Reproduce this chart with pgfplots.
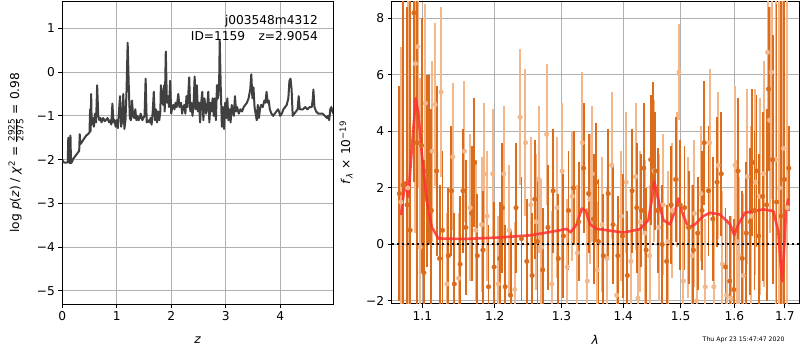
\documentclass[border=0pt]{standalone}
\usepackage{fontspec}
\setmainfont{DejaVu Sans}
\usepackage{pgfplots}
\usepackage{pgfplotstable}
\pgfplotsset{compat=1.18}
\definecolor{darkor}{HTML}{DB6C1C}
\definecolor{lightor}{HTML}{F2B88C}
\definecolor{modred}{HTML}{FF3030}
\definecolor{pzcol}{HTML}{404040}
\definecolor{gridc}{HTML}{B0B0B0}

\pgfplotstableread{
z lp
0.00 -2.00
0.02 -2.06
0.05 -2.07
0.08 -2.07
0.10 -2.05
0.11 -1.50
0.12 -2.05
0.14 -2.08
0.15 -1.45
0.16 -2.08
0.18 -2.05
0.20 -1.98
0.22 -1.95
0.25 -1.90
0.28 -1.85
0.31 -1.80
0.32 -1.42
0.33 -1.65
0.36 -1.60
0.40 -1.52
0.44 -1.45
0.47 -1.42
0.50 -1.38
0.51 -0.85
0.52 -1.35
0.53 -0.50
0.54 -1.20
0.56 -1.05
0.58 -1.25
0.60 -0.95
0.62 -1.15
0.64 -0.30
0.66 -1.00
0.68 -1.10
0.70 -1.05
0.72 -1.15
0.75 -1.05
0.78 -1.12
0.80 -1.10
0.83 -1.05
0.86 -1.15
0.88 -1.10
0.90 -1.20
0.92 -0.72
0.94 -1.15
0.96 -1.10
0.98 -1.25
1.00 -1.10
1.02 -1.28
1.04 -0.90
1.06 -0.55
1.08 -1.25
1.10 -1.10
1.12 -0.50
1.14 -1.30
1.16 -1.10
1.18 -0.40
1.20 0.67
1.22 -0.30
1.24 -1.05
1.26 -1.10
1.28 -0.65
1.30 -1.00
1.32 -1.05
1.34 -0.85
1.36 -1.10
1.38 -1.00
1.40 -1.10
1.42 -1.05
1.44 -0.95
1.47 -1.10
1.49 -1.05
1.51 -1.00
1.53 -0.15
1.55 -1.15
1.57 -1.10
1.60 -1.15
1.62 -1.05
1.64 -1.20
1.66 -0.90
1.68 -0.45
1.70 -1.10
1.72 -0.85
1.74 -1.15
1.76 -0.90
1.78 -1.10
1.80 -0.90
1.81 -0.30
1.83 -0.50
1.85 -0.75
1.87 -0.30
1.88 -0.90
1.90 0.47
1.92 -0.70
1.94 -0.55
1.96 -0.80
1.98 -0.20
2.00 -0.95
2.02 -0.80
2.04 -0.75
2.06 -0.85
2.08 -0.70
2.10 -0.80
2.13 -0.50
2.15 -0.80
2.18 -0.70
2.20 -0.95
2.22 -0.80
2.24 -0.75
2.26 -0.95
2.28 -0.55
2.30 -0.80
2.33 -0.12
2.35 -0.90
2.37 -0.70
2.39 -1.00
2.41 -0.75
2.43 -0.10
2.45 -0.85
2.47 -0.30
2.49 -0.90
2.51 -0.70
2.53 -1.15
2.55 -0.70
2.57 -0.45
2.59 -1.10
2.61 -0.60
2.64 -0.95
2.66 -0.80
2.68 -0.45
2.70 -1.15
2.72 -0.70
2.74 -0.90
2.76 -0.60
2.78 -1.00
2.80 -0.60
2.82 -1.10
2.84 -0.30
2.86 -0.60
2.88 -0.20
2.89 0.73
2.91 -0.40
2.93 -1.25
2.95 -0.80
2.97 -1.30
2.99 -0.70
3.01 -1.05
3.03 -0.60
3.05 -1.10
3.07 -0.85
3.09 -1.15
3.11 -0.75
3.13 -0.90
3.15 -1.00
3.17 -0.55
3.19 -0.90
3.21 -0.80
3.24 -0.95
3.27 -0.85
3.30 -0.90
3.33 -0.80
3.36 -0.75
3.39 -0.70
3.42 -0.60
3.45 -0.40
3.47 -0.05
3.49 -0.60
3.51 -0.35
3.53 -0.80
3.55 -0.95
3.57 -1.10
3.59 -0.75
3.61 -1.05
3.63 -0.85
3.65 -0.75
3.68 -0.80
3.71 -0.65
3.73 -0.70
3.75 -0.45
3.77 -0.70
3.79 -0.65
3.81 -0.85
3.84 -0.95
3.87 -1.00
3.90 -0.95
3.93 -0.90
3.96 -0.85
3.98 -0.90
4.00 -1.00
4.03 -0.95
4.06 -0.85
4.09 -0.80
4.12 -0.75
4.15 -0.60
4.17 -0.20
4.19 -0.15
4.21 -0.40
4.23 -1.00
4.26 -0.95
4.29 -0.90
4.32 -0.85
4.34 -0.55
4.36 -0.85
4.39 -0.85
4.42 -0.85
4.46 -0.80
4.50 -0.85
4.54 -0.80
4.58 -0.80
4.60 -0.60
4.61 -0.40
4.63 -0.80
4.66 -0.90
4.70 -0.95
4.74 -0.95
4.78 -0.95
4.82 -1.00
4.86 -1.05
4.88 -1.00
4.90 -1.10
4.92 -0.85
4.94 -0.80
4.96 -0.90
4.98 -0.95
}\pzdata

\pgfplotstableread{
x y e
1.070 1.8 3.8
1.075 2.1 7.0
1.080 1.4 7.0
1.084 0.5 9.0
1.089 8.2 6.0
1.093 3.6 7.0
1.099 3.5 4.5
1.102 -1.0 4.0
1.106 2.6 3.4
1.109 3.0 3.0
1.112 1.2 3.6
1.119 2.6 3.0
1.123 -0.5 2.6
1.127 0.5 2.8
1.135 -0.4 2.4
1.139 1.9 2.3
1.143 -1.4 2.5
1.151 -0.7 2.4
1.155 1.9 2.2
1.159 0.6 2.4
1.167 1.1 2.4
1.171 2.9 2.3
1.175 -0.4 2.2
1.183 -0.2 2.1
1.191 -1.5 2.2
1.199 -0.8 2.3
1.207 -0.5 2.0
1.211 1.3 2.3
1.215 -1.5 2.2
1.223 -1.8 2.3
1.231 1.3 2.3
1.239 0.2 2.2
1.247 -0.6 2.2
1.255 -1.1 2.2
1.259 1.6 2.1
1.263 0.1 2.3
1.271 -0.9 2.2
1.279 0.6 2.2
1.287 1.9 2.2
1.295 -0.5 2.3
1.303 0.3 2.2
1.311 1.2 2.1
1.319 2.0 2.0
1.327 0.8 2.1
1.335 2.7 2.3
1.343 1.8 2.1
1.351 0.9 2.3
1.355 2.2 2.1
1.359 0.1 2.2
1.367 -0.4 2.2
1.375 1.8 2.3
1.383 0.7 2.1
1.391 -0.4 2.1
1.399 0.3 2.2
1.407 -1.1 2.3
1.415 1.9 2.2
1.423 1.3 2.3
1.431 1.2 2.0
1.435 2.7 2.3
1.439 -0.2 2.2
1.447 3.0 2.3
1.451 3.85 1.9
1.455 2.6 2.1
1.459 1.2 2.2
1.467 0.0 2.1
1.475 -0.6 2.0
1.483 1.4 2.1
1.491 2.3 2.2
1.499 1.4 2.3
1.507 1.3 2.2
1.515 0.6 2.0
1.523 -0.2 2.3
1.531 0.4 2.0
1.539 1.2 2.1
1.543 3.6 2.2
1.551 1.9 2.3
1.559 0.9 2.2
1.567 2.2 2.3
1.575 2.5 2.2
1.583 -0.8 2.1
1.591 -1.3 2.3
1.599 -1.6 2.5
1.607 2.6 2.6
1.615 -0.5 2.4
1.623 0.4 2.5
1.631 0.8 2.6
1.635 2.9 2.6
1.639 1.2 2.8
1.643 2.6 2.7
1.647 0.3 2.9
1.655 1.7 3.0
1.663 1.4 3.4
1.667 5.5 2.9
1.675 3.0 4.4
1.683 1.5 7.0
1.692 1.0 10
1.699 2.3 10
1.708 2.7 1.5
}\darkdata

\pgfplotstableread{
x y e
1.072 1.5 5.5
1.081 2.0 8
1.091 6.4 6
1.094 7.0 5
1.097 -0.1 6
1.104 5.0 3.5
1.113 3.3 3.2
1.117 4.95 2.9
1.125 5.4 3.0
1.133 -1.4 2.5
1.141 3.1 2.6
1.149 -1.2 2.3
1.157 3.3 2.5
1.165 1.3 2.6
1.173 0.5 2.5
1.181 0.7 2.4
1.185 2.5 2.5
1.189 1.0 2.3
1.197 2.5 2.3
1.205 -1.4 2.4
1.213 2.5 2.4
1.221 0.5 2.3
1.229 -1.6 2.4
1.237 4.5 2.4
1.245 3.6 2.6
1.253 1.4 2.4
1.261 0.8 2.4
1.265 2.3 2.6
1.269 -0.1 2.4
1.277 3.9 2.5
1.285 -1.4 2.6
1.293 1.3 2.5
1.301 2.6 2.4
1.309 -0.8 2.4
1.317 1.7 2.3
1.325 -0.3 2.4
1.333 3.6 2.5
1.341 -1.3 2.6
1.345 1.6 2.3
1.349 2.5 2.4
1.357 -0.9 2.4
1.365 0.7 2.4
1.373 -0.5 2.5
1.381 2.8 2.6
1.389 -1.8 2.5
1.397 1.0 2.3
1.405 2.2 2.5
1.413 -0.6 2.5
1.421 2.4 2.6
1.425 -1.9 2.4
1.429 0.8 2.5
1.437 0.4 2.6
1.445 -0.4 2.5
1.453 2.6 2.5
1.461 0.6 2.6
1.469 1.4 2.5
1.477 0.1 2.5
1.485 1.2 2.4
1.493 2.3 2.4
1.497 6.1 1.7
1.505 -1.3 2.4
1.513 0.6 2.5
1.521 -0.4 2.5
1.525 1.1 2.6
1.529 -2.0 2.4
1.537 1.8 2.4
1.545 -1.5 2.4
1.553 3.6 2.6
1.561 -1.5 2.5
1.569 2.8 2.6
1.577 -0.7 2.6
1.585 -1.8 2.7
1.593 -1.9 2.9
1.601 2.8 2.8
1.605 0.1 2.9
1.609 -0.4 2.8
1.617 -1.1 2.9
1.625 2.4 3.1
1.633 1.0 3.2
1.641 2.2 3.3
1.649 1.7 3.5
1.657 2.5 4.0
1.665 6.8 3.5
1.669 4.4 4.0
1.673 6.1 4.5
1.681 3.0 7
1.689 2.0 9
1.697 3.4 10
1.705 1.3 9
}\lightdata

\pgfplotstableread{
x y
1.0722 1.04
1.0774 2.20
1.0817 1.69
1.0861 3.34
1.0913 5.17
1.0947 4.64
1.0993 3.22
1.1058 1.57
1.1125 0.62
1.1213 0.21
1.1555 0.19
1.2028 0.24
1.2518 0.32
1.2977 0.50
1.3082 0.55
1.3145 0.43
1.3240 0.71
1.3320 1.27
1.3384 1.20
1.3453 0.71
1.3562 0.55
1.3835 0.47
1.4002 0.42
1.4286 0.54
1.4429 0.86
1.4488 1.57
1.4533 2.22
1.4603 1.57
1.4691 0.86
1.4809 0.71
1.4898 1.18
1.4958 1.62
1.5019 1.18
1.5138 0.59
1.5261 0.71
1.5413 1.00
1.5538 1.12
1.5726 1.06
1.5916 0.71
1.5998 0.33
1.6075 0.71
1.6205 1.12
1.6565 1.24
1.6765 1.18
1.6866 0.47
1.6914 -0.71
1.6947 -1.30
1.6981 -0.24
1.7022 1.18
1.7069 1.62
}\modeldata

\pgfplotsset{
  every axis/.append style={
    font=\fontsize{12.2bp}{14bp}\selectfont,
    scale only axis,
    axis line style={line width=1bp},
    tick align=outside,
    major tick length=4bp,
    tick style={black, line width=0.9bp},
    xtick pos=bottom, ytick pos=left,
    grid=major,
    major grid style={gridc, line width=1bp},
    enlargelimits=false,
  }
}

\begin{document}
\begin{tikzpicture}
\path[use as bounding box] (0,0) rectangle (800bp,350bp);

\begin{axis}[
  at={(62.3bp,46bp)}, anchor=south west,
  width=270.7bp, height=302.8bp,
  xmin=0, xmax=4.97, ymin=-5.30, ymax=1.62,
  xtick={0,1,2,3,4}, xticklabels={0,1,2,3,4},
  ytick={-5,-4,-3,-2,-1,0,1},
  yticklabels={−5,−4,−3,−2,−1,0,1},
  xlabel={\textit{z}},
  xlabel style={at={(axis description cs:0.5,-0.119)}, anchor=center},
  ylabel={log \textit{p}(\textit{z}) / \textit{χ}\textsuperscript{2} = $\frac{\mbox{\fontsize{8.8bp}{9bp}\selectfont 2925}}{\mbox{\fontsize{8.8bp}{9bp}\selectfont 2975}}$ = 0.98},
  ylabel style={at={(axis description cs:-0.172,0.5)}, anchor=center},
]
\addplot[pzcol, line width=2bp, line join=round] table[x=z, y=lp] {\pzdata};
\node[anchor=east, inner sep=0pt] at (rel axis cs:0.945,0.934) {j003548m4312};
\node[anchor=east, inner sep=0pt] at (rel axis cs:0.945,0.886) {ID=1159\hspace{1.1em}z=2.9054};
\end{axis}

\begin{axis}[
  at={(391.7bp,46bp)}, anchor=south west,
  width=407.3bp, height=302.8bp,
  xmode=log,
  xmin=1.0603, xmax=1.729, ymin=-2.11, ymax=8.61,
  xtick={1.1,1.2,1.3,1.4,1.5,1.6,1.7},
  xticklabels={1.1,1.2,1.3,1.4,1.5,1.6,1.7},
  minor xtick={},
  ytick={-2,0,2,4,6,8},
  yticklabels={−2,0,2,4,6,8},
  xlabel={\textit{λ}},
  xlabel style={at={(axis description cs:0.5,-0.119)}, anchor=center},
  ylabel={\textit{f}\textsubscript{\textit{λ}} × 10\textsuperscript{−19}},
  ylabel style={at={(axis description cs:-0.112,0.5)}, anchor=center},
]
\addplot[only marks, mark=*, mark size=2.3bp, lightor, mark options={draw=lightor, fill=lightor},
  error bars/.cd, y dir=both, y explicit, error mark=none,
  error bar style={line width=2bp, lightor}]
  table[x=x, y=y, y error=e] {\lightdata};
\addplot[only marks, mark=*, mark size=2.3bp, darkor, mark options={draw=darkor, fill=darkor},
  error bars/.cd, y dir=both, y explicit, error mark=none,
  error bar style={line width=1.9bp, darkor}]
  table[x=x, y=y, y error=e] {\darkdata};
\addplot[black, line width=2bp, dash pattern=on 2bp off 3bp] coordinates {(1.0603,0) (1.729,0)};
\addplot[modred, opacity=0.85, line width=2.6bp, line join=round] table[x=x, y=y] {\modeldata};
\end{axis}

\node[anchor=east, font=\fontsize{6.2bp}{7bp}\selectfont] at (788bp,10bp) {Thu Apr 23 15:47:47 2020};
\end{tikzpicture}
\end{document}
